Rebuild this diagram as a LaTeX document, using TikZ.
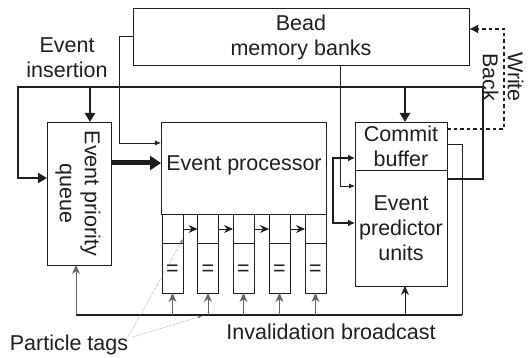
\documentclass[tikz,border=0pt]{standalone}
\usepackage{fontspec}
\setmainfont{Liberation Sans}
\usetikzlibrary{arrows.meta}
\definecolor{ink}{HTML}{1E1E1E}
\tikzset{
  box/.style={draw=ink, line width=0.9pt, inner sep=0pt},
  lbl/.style={text=ink, font=\fontsize{21.5}{25}\selectfont, align=center, inner sep=0pt},
  thickln/.style={draw=ink, line width=2.8pt},
  thinln/.style={draw=ink, line width=0.9pt},
  busln/.style={draw=ink, line width=2pt},
  grayln/.style={draw=gray!80!black, line width=0.9pt},
  thinarr/.style={-{Latex[length=6pt,width=5pt]}},
  stk/.style={-{Stealth[length=9pt,width=8pt,inset=3pt]}},
  bigarr/.style={-{Triangle[length=9pt,width=10pt]}},
  tagln/.style={draw=gray, line width=0.5pt, densely dotted},
}
\begin{document}
\begin{tikzpicture}[x=1pt,y=-1pt]
\useasboundingbox (0,0) rectangle (528,358);
% boxes
\draw[box] (133,8) rectangle (469,65);
\node[lbl] (bead) at (301,37) {Bead\\memory banks};
\draw[box] (47,122) rectangle (111,265);
\node[lbl, rotate=-90] (pq) at (78,193.5) {Event priority\\queue};
\draw[box] (161,122) rectangle (326,214);
\node[lbl] (ep) at (244,165) {Event processor};
\draw[box] (355,122) rectangle (447,170);
\node[lbl] (cb) at (401,146) {Commit\\buffer};
\draw[box] (355,170) rectangle (447,286);
\node[lbl] (pu) at (401,228) {Event\\predictor\\units};
% cells
\foreach \x/\n in {162/1,197.5/2,233/3,269/4,305/5}{
  \draw[box] (\x,214) rectangle ++(21,29);
  \draw[box] (\x,243) rectangle ++(21,50);
  \node[lbl] (eq\n) at (\x+10.5,270) {=};
  \coordinate (cb\n) at (\x+10.5,293);
  \coordinate (cr\n) at (\x+21,229);
  \coordinate (cl\n) at (\x,229);
}
\foreach \a/\b in {1/2,2/3,3/4,4/5}{
  \draw[thinln, stk] (cr\a) -- (cl\b);
}
% texts
\node[lbl] (ins) at (67,58) {Event\\insertion};
\node[lbl] (inv) at (331,332) {Invalidation broadcast};
\node[lbl] (pt) at (69,345) {Particle tags};
\node[lbl, rotate=-90] (wb) at (503,77) {Write\\Back};
% thick loop
\draw[thickln, bigarr] (447,179) -- (483,179) -- (483,87) -- (18,87) -- (18,178) -- (47,178);
\draw[thickln, bigarr] (90,87) -- (90,122);
\draw[thickln, bigarr] (405,87) -- (405,122);
\draw[draw=ink, line width=5pt, -{Triangle[length=11pt,width=14pt]}] (111,163) -- (161,163);
% thin from memory
\draw[thinln, thinarr] (133,36) -- (119,36) -- (119,143) -- (161,143);
\draw[thinln, thinarr] (340,65) -- (340,186) -- (355,186);
% thick bracket
\draw[draw=ink, line width=2.2pt, -{Latex[length=7pt,width=7pt]}] (333,223) -- (333,158) -- (355,158);
\draw[draw=ink, line width=2.2pt, -{Latex[length=7pt,width=7pt]}] (333,160) -- (333,223) -- (355,223);
% write back
\draw[draw=ink, line width=2pt, dash pattern=on 3.5pt off 3pt, -{Latex[length=9pt,width=9pt]}] (447,129) -- (504,129) -- (504,29) -- (469,29);
% bus
\draw[thinln] (447,144) -- (462,144) -- (462,315);
\draw[busln] (462,315) -- (76,315);
\draw[grayln, stk] (76,315) -- (76,265);
\foreach \n in {1,...,5}{
  \draw[grayln, stk] (cb\n |- 0,315) -- (cb\n);
}
\draw[thinln, stk] (405,315) -- (405,286);
% particle tags
\draw[tagln, -{Latex[length=4pt,width=3pt]}] (128,337) -- (183,239);
\draw[tagln, -{Latex[length=4pt,width=3pt]}] (133,337) -- (202,316);
\end{tikzpicture}
\end{document}
